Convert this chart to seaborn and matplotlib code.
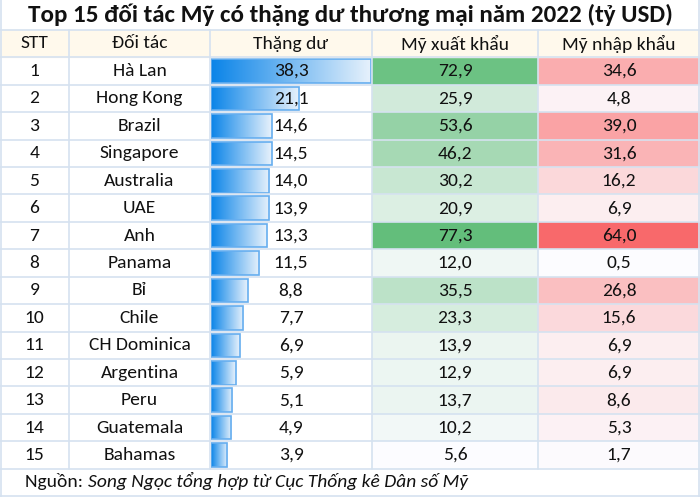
import matplotlib
matplotlib.use("Agg")
import matplotlib.pyplot as plt
from matplotlib.colors import LinearSegmentedColormap
import numpy as np
import pandas as pd
import seaborn as sns

# Dữ liệu
stt = list(range(1, 16))
doi_tac = ["Hà Lan", "Hong Kong", "Brazil", "Singapore", "Australia", "UAE", "Anh",
           "Panama", "Bỉ", "Chile", "CH Dominica", "Argentina", "Peru", "Guatemala", "Bahamas"]
thang_du = [38.3, 21.1, 14.6, 14.5, 14.0, 13.9, 13.3, 11.5, 8.8, 7.7, 6.9, 5.9, 5.1, 4.9, 3.9]
xuat_khau = [72.9, 25.9, 53.6, 46.2, 30.2, 20.9, 77.3, 12.0, 35.5, 23.3, 13.9, 12.9, 13.7, 10.2, 5.6]
nhap_khau = [34.6, 4.8, 39.0, 31.6, 16.2, 6.9, 64.0, 0.5, 26.8, 15.6, 6.9, 6.9, 8.6, 5.3, 1.7]
tieu_de_cot = ["STT", "Đối tác", "Thặng dư", "Mỹ xuất khẩu", "Mỹ nhập khẩu"]

df = pd.DataFrame({"STT": stt, "DOI_TAC": doi_tac, "THANG_DU": thang_du,
                   "XUAT": xuat_khau, "NHAP": nhap_khau})

sns.set_theme(style="white")
FONT = ['Carlito', 'Lato', 'DejaVu Sans']
plt.rcParams['font.family'] = FONT
FS = 14

W, H = 700, 497
fig = plt.figure(figsize=(7, 4.97), dpi=100)

# bố cục (pixel)
col_x = [0, 69, 210, 372, 538, 700]
row_top0 = 57.3
row_h = 27.43
n = len(df)
body_bottom = row_top0 + n * row_h


def fig_rect(x0, y0, x1, y1):
    return [x0 / W, 1 - y1 / H, (x1 - x0) / W, (y1 - y0) / H]


def fmt(v):
    return f"{v:.1f}".replace(".", ",")


# Heatmap xuất khẩu / nhập khẩu
cmap_g = LinearSegmentedColormap.from_list("g", ["#FCFCFF", "#63BE7B"])
cmap_r = LinearSegmentedColormap.from_list("r", ["#FCFCFF", "#F8696B"])
for col, cmap, (x0, x1) in [("XUAT", cmap_g, (col_x[3], col_x[4])),
                            ("NHAP", cmap_r, (col_x[4], col_x[5]))]:
    axh = fig.add_axes(fig_rect(x0, row_top0, x1, body_bottom))
    vals = df[[col]].values
    labels = np.array([[fmt(v)] for v in df[col]])
    sns.heatmap(vals, ax=axh, cmap=cmap, vmin=vals.min(), vmax=vals.max(), cbar=False,
                annot=labels, fmt="", annot_kws={"color": "#111111", "fontsize": FS,
                                                 "family": FONT},
                xticklabels=False, yticklabels=False)
    axh.set_axis_off()

# Thanh dữ liệu thặng dư
axb = fig.add_axes(fig_rect(col_x[2] + 1, row_top0, col_x[3], body_bottom))
sns.barplot(data=df, x="THANG_DU", y="DOI_TAC", orient="h", ax=axb, width=0.86,
            color="#0A84E8", edgecolor="#66AEEF", linewidth=1.2)
axb.set_axis_off()
grad = np.linspace(0, 1, 256).reshape(1, -1)
cmap_b = LinearSegmentedColormap.from_list("b", ["#0A84E8", "#E8F2FC"])
for p in axb.patches:
    x, y = p.get_x(), p.get_y()
    w, h = p.get_width(), p.get_height()
    im = axb.imshow(grad, cmap=cmap_b, aspect="auto", extent=[x, x + w, y + h, y], zorder=1.5)
    im.set_clip_path(p)
    p.set_facecolor("none")
    p.set_zorder(2)
axb.set_ylim(n - 0.5, -0.5)
axb.set_xlim(0, 38.3 * 161 / 160)

# Lớp trên cùng: chữ và đường kẻ
ax = fig.add_axes([0, 0, 1, 1])
ax.set_zorder(10)
ax.patch.set_visible(False)
ax.set_xlim(0, W)
ax.set_ylim(H, 0)
ax.set_axis_off()

ax.add_patch(plt.Rectangle((0, 30), W, row_top0 - 30, color="#FFF9EC", zorder=0))
ax.text(W / 2, 15, "Top 15 đối tác Mỹ có thặng dư thương mại năm 2022 (tỷ USD)",
        ha="center", va="center", fontsize=18, fontweight="bold", family=FONT,
        color="#111111")

for i, t in enumerate(tieu_de_cot):
    ax.text((col_x[i] + col_x[i + 1]) / 2, 43.5, t, ha="center", va="center",
            fontsize=FS, color="#111111")

for i, row in df.iterrows():
    yc = row_top0 + row_h * (i + 0.5)
    ax.text((col_x[0] + col_x[1]) / 2, yc, str(row["STT"]), ha="center", va="center",
            fontsize=FS, color="#111111")
    ax.text((col_x[1] + col_x[2]) / 2, yc, row["DOI_TAC"], ha="center", va="center",
            fontsize=FS, color="#111111")
    ax.text((col_x[2] + col_x[3]) / 2, yc, fmt(row["THANG_DU"]), ha="center", va="center",
            fontsize=FS, color="#111111")

line_c = "#D5E2F0"
for k in range(n + 1):
    y = row_top0 + k * row_h
    ax.plot([0, W], [y, y], color=line_c, lw=1.2)
ax.plot([0, W], [30, 30], color=line_c, lw=1.2)
ax.plot([0, W], [H - 1.5, H - 1.5], color=line_c, lw=1.2)
for x in col_x[1:-1]:
    ax.plot([x, x], [30, body_bottom], color=line_c, lw=1.2)
ax.plot([0.8, 0.8], [0, H], color=line_c, lw=1.2)
ax.plot([W - 0.8, W - 0.8], [0, H], color=line_c, lw=1.2)

ax.text(25, 481, "Nguồn: ", ha="left", va="center", fontsize=FS, color="#111111")
ax.text(88, 481, "Song Ngọc tổng hợp từ Cục Thống kê Dân số Mỹ", ha="left", va="center",
        fontsize=FS, style="italic", family=FONT, color="#111111")

fig.savefig("out.png", dpi=100)
